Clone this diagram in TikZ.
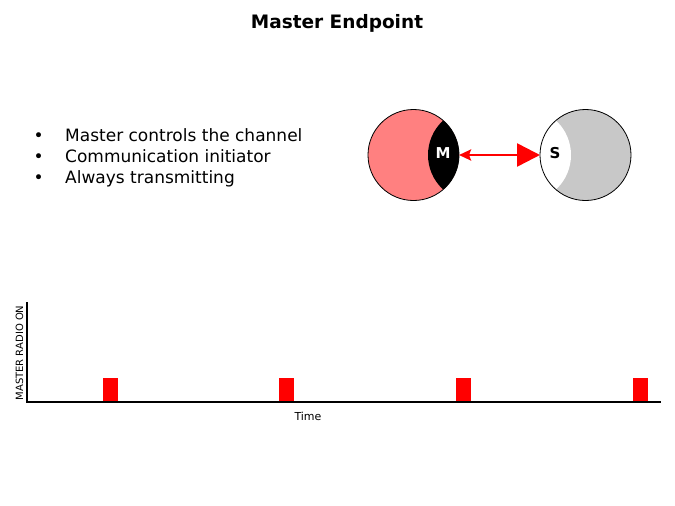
\documentclass[tikz,border=0pt]{standalone}
\usepackage{fontspec}
\setmainfont{DejaVu Sans}
\usetikzlibrary{arrows.meta}
\definecolor{mastersalmon}{HTML}{FF8080}
\definecolor{slavegray}{HTML}{C8C8C8}
\tikzset{>=latex}

\begin{document}
\begin{tikzpicture}[x=1pt,y=-1pt,
  bullet/.style={anchor=base west,inner sep=0,font=\fontsize{17}{20}\selectfont},
  endlabel/.style={font=\bfseries\fontsize{15}{17}\selectfont},
  pulse/.style={fill=red,draw=none}]
\useasboundingbox (0,0) rectangle (675,506);
\node[font=\bfseries\fontsize{18.5}{22}\selectfont] (title) at (337,23) {Master Endpoint};
\foreach \t [count=\i] in {Master controls the channel,Communication initiator,Always transmitting}
  {\node[bullet] (item\i) at (65,{120.9+20.7*\i}) {\t};
   \node[bullet,anchor=base] (dot\i) at (38.7,{120.9+20.7*\i}) {•};}

\coordinate (mc) at (413.5,155);
\coordinate (sc) at (585.5,155);
\begin{scope}
\clip (mc) circle[radius=45.5];
\fill[mastersalmon] (mc) circle[radius=45.5];
\fill[black] (475,155) circle[radius=47];
\end{scope}
\begin{scope}
\clip (sc) circle[radius=45.5];
\fill[slavegray] (sc) circle[radius=45.5];
\fill[white] (524,155) circle[radius=47];
\end{scope}
\node[circle,draw,line width=0.8,minimum size=91,inner sep=0,outer sep=0] (master) at (mc) {};
\node[circle,draw,line width=0.8,minimum size=91,inner sep=0,outer sep=0] (slave) at (sc) {};
\node[endlabel,text=white] (mlabel) at (443,153.5) {M};
\node[endlabel] (slabel) at (555,153.5) {S};
\draw[red,line width=2.5,{Stealth[length=12,width=11,inset=2]}-{Triangle[length=23,width=23]}] (master.east) -- (slave.west);

\foreach \x in {103,279,456,633} \fill[pulse] (\x,378) rectangle ++(15,24);
\coordinate (ytop) at (27,302);
\coordinate (origin) at (27,402);
\coordinate (xend) at (661,402);
\draw[line width=1.6] (ytop) -- (origin) -- (xend);
\node[rotate=90,font=\fontsize{10}{12}\selectfont] (ylabel) at (19.5,353) {MASTER RADIO ON};
\node[font=\fontsize{11}{13}\selectfont] (xlabel) at (308,416) {Time};
\end{tikzpicture}
\end{document}
